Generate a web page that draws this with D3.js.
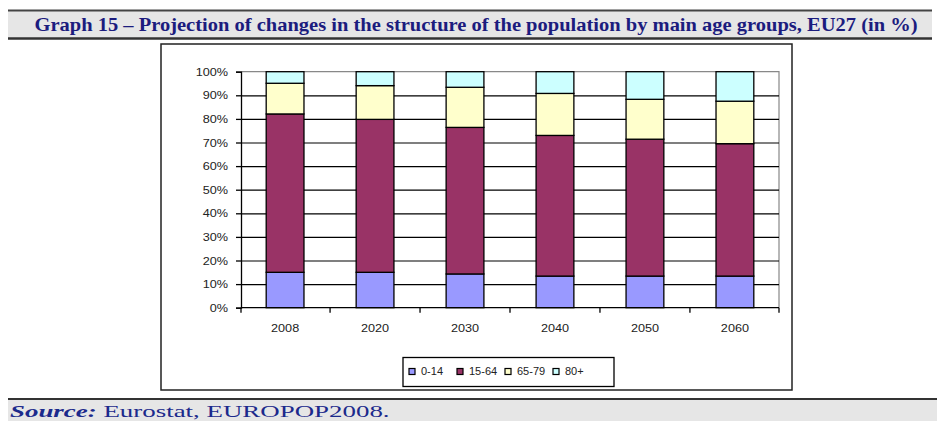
<!DOCTYPE html>
<html>
<head>
<meta charset="utf-8">
<script src="https://cdn.jsdelivr.net/npm/d3@7"></script>
<style>
  body { margin: 0; background: #fff; }
  svg { display: block; }
</style>
</head>
<body>
<script>
// data (shares in %)
var years = ['2008', '2020', '2030', '2040', '2050', '2060'];
var ageGroups = ['0-14', '15-64', '65-79', '80+'];
var age0to14 = [15.0, 15.0, 14.3, 13.4, 13.4, 13.4];
var age15to64 = [67.1, 64.8, 62.1, 59.6, 58.0, 56.1];
var age65to79 = [13.0, 14.3, 17.0, 17.8, 16.9, 18.0];
var age80plus = [4.9, 5.9, 6.6, 9.2, 11.7, 12.5];
var yTicks = [0, 0.1, 0.2, 0.3, 0.4, 0.5, 0.6, 0.7, 0.8, 0.9, 1];
var colors = ['#9999ff', '#993366', '#ffffcc', '#ccffff'];

var rows = years.map(function(y, i) {
    return {year: y, '0-14': age0to14[i], '15-64': age15to64[i], '65-79': age65to79[i], '80+': age80plus[i]};
});
var series = d3.stack().keys(ageGroups).offset(d3.stackOffsetExpand)(rows);

var svg = d3.select('body').append('svg')
    .attr('width', 937)
    .attr('height', 421);

// stretch text horizontally, the original is a bit wider than the fonts
function stretch(sel, k) {
    sel.each(function() {
        var w = this.getComputedTextLength();
        d3.select(this).attr('textLength', w * k).attr('lengthAdjust', 'spacingAndGlyphs');
    });
}

// title band
svg.append('rect')
    .attr('x', 8).attr('y', 11)
    .attr('width', 924).attr('height', 27)
    .attr('fill', '#e6e6e6');
svg.append('line')
    .attr('x1', 8).attr('x2', 932).attr('y1', 10.5).attr('y2', 10.5)
    .attr('stroke', '#444').attr('stroke-width', 2);
svg.append('line')
    .attr('x1', 8).attr('x2', 932).attr('y1', 38.5).attr('y2', 38.5)
    .attr('stroke', '#333').attr('stroke-width', 2.5);
var title = svg.append('text')
    .attr('x', 476).attr('y', 31)
    .attr('text-anchor', 'middle')
    .attr('font-family', 'Liberation Serif, Times New Roman, serif')
    .attr('font-weight', 'bold')
    .attr('font-size', 19)
    .attr('fill', '#1c1c7e')
    .text('Graph 15 \u2013 Projection of changes in the structure of the population by main age groups, EU27 (in %)');
title.attr('textLength', 883).attr('lengthAdjust', 'spacingAndGlyphs');

// source band
svg.append('rect')
    .attr('x', 8).attr('y', 400)
    .attr('width', 929).attr('height', 21)
    .attr('fill', '#e6e6e6');
svg.append('line')
    .attr('x1', 8).attr('x2', 937).attr('y1', 399).attr('y2', 399)
    .attr('stroke', '#333').attr('stroke-width', 2);
var source = svg.append('text')
    .attr('font-family', 'Liberation Serif, Times New Roman, serif')
    .attr('font-size', 16)
    .attr('fill', '#1c2a8c');
source.append('tspan')
    .attr('font-weight', 'bold')
    .attr('font-style', 'italic')
    .text('Source:');
source.append('tspan').text(' Eurostat, EUROPOP2008.');
var sw = source.node().getComputedTextLength();
source.attr('transform', 'translate(10,417) scale(' + (380 / sw) + ',1)');

// chart box
svg.append('rect')
    .attr('x', 161).attr('y', 44)
    .attr('width', 631).attr('height', 346)
    .attr('fill', '#fff')
    .attr('stroke', '#222')
    .attr('stroke-width', 1.5);

var plotLeft = 241, plotRight = 779, plotTop = 71.7, plotBottom = 307.7;

var x = d3.scaleBand()
    .domain(years)
    .range([plotLeft, plotRight])
    .paddingInner(0.58)
    .paddingOuter(0.28);
var y = d3.scaleLinear()
    .domain([0, 1])
    .range([plotBottom, plotTop]);

// plot border top/right
svg.append('path')
    .attr('d', 'M' + plotLeft + ',' + plotTop + 'H' + plotRight + 'V' + plotBottom)
    .attr('fill', 'none')
    .attr('stroke', '#888')
    .attr('stroke-width', 1.2);

// gridlines
svg.append('g')
    .attr('class', 'grid')
    .attr('transform', 'translate(' + plotLeft + ',0)')
    .call(d3.axisLeft(y).tickValues(yTicks.slice(1, -1)).tickSize(-(plotRight - plotLeft)).tickFormat(''))
    .call(function(g) {
        g.select('.domain').remove();
        g.selectAll('line').attr('stroke', '#000').attr('stroke-width', 1.2);
    });

// bars
svg.append('g').selectAll('g')
    .data(series)
    .enter().append('g')
    .attr('fill', function(d, i) { return colors[i]; })
    .selectAll('rect')
    .data(function(d) { return d; })
    .enter().append('rect')
    .attr('x', function(d) { return x(d.data.year); })
    .attr('y', function(d) { return y(d[1]); })
    .attr('width', x.bandwidth())
    .attr('height', function(d) { return y(d[0]) - y(d[1]); })
    .attr('stroke', '#000')
    .attr('stroke-width', 1.3);

// y axis
var yAxis = svg.append('g')
    .attr('transform', 'translate(' + plotLeft + ',0)')
    .call(d3.axisLeft(y).tickValues(yTicks).tickSize(5).tickPadding(8).tickFormat(d3.format('.0%')));
yAxis.select('.domain').attr('stroke', '#000').attr('stroke-width', 1.3);
yAxis.selectAll('line').attr('stroke', '#000').attr('stroke-width', 1.3);
yAxis.selectAll('text')
    .attr('font-family', 'Liberation Sans, Arial, sans-serif')
    .attr('font-size', 11.5)
    .attr('fill', '#222')
    .call(stretch, 1.1);

// x axis
var xAxis = svg.append('g')
    .attr('transform', 'translate(0,' + plotBottom + ')')
    .call(d3.axisBottom(x).tickSize(0).tickPadding(16));
xAxis.select('.domain')
    .attr('d', 'M' + plotLeft + ',0H' + plotRight)
    .attr('stroke', '#000').attr('stroke-width', 1.3);
xAxis.selectAll('text')
    .attr('font-family', 'Liberation Sans, Arial, sans-serif')
    .attr('font-size', 11.5)
    .attr('fill', '#222')
    .call(stretch, 1.1);
var bounds = years.map(function(d) { return x(d) - x.step() * x.paddingInner() / 2; });
bounds.push(plotRight);
bounds[0] = plotLeft;
xAxis.selectAll('line.bound')
    .data(bounds)
    .enter().append('line')
    .attr('class', 'bound')
    .attr('x1', function(d) { return d; })
    .attr('x2', function(d) { return d; })
    .attr('y1', 0).attr('y2', 5)
    .attr('stroke', '#000').attr('stroke-width', 1.3);

// legend
svg.append('rect')
    .attr('x', 403).attr('y', 357.5)
    .attr('width', 211).attr('height', 29)
    .attr('fill', '#fff')
    .attr('stroke', '#000')
    .attr('stroke-width', 1.3);
var lx = d3.scalePoint().domain(ageGroups).range([409, 553]);
var legend = svg.append('g').selectAll('g')
    .data(ageGroups)
    .enter().append('g')
    .attr('transform', function(d) { return 'translate(' + lx(d) + ',371.5)'; });
legend.append('rect')
    .attr('x', 0).attr('y', -3)
    .attr('width', 6).attr('height', 6)
    .attr('fill', function(d, i) { return colors[i]; })
    .attr('stroke', '#000')
    .attr('stroke-width', 1.2);
legend.append('text')
    .attr('x', 12)
    .attr('dy', '0.36em')
    .attr('font-family', 'Liberation Sans, Arial, sans-serif')
    .attr('font-size', 11)
    .attr('fill', '#222')
    .text(function(d) { return d; });
</script>
</body>
</html>
